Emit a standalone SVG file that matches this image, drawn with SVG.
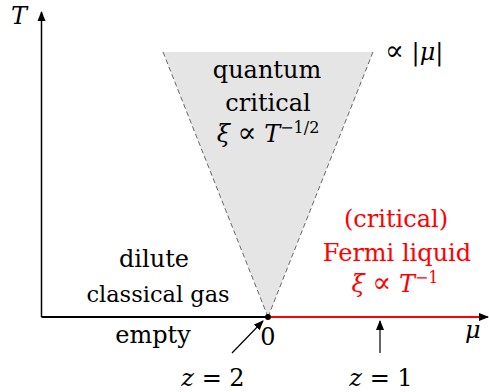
<svg xmlns="http://www.w3.org/2000/svg" width="489" height="392" viewBox="0 0 489 392">
<defs>
<marker id="ah" viewBox="0 0 10 10" refX="9" refY="5" markerWidth="10" markerHeight="10" markerUnits="userSpaceOnUse" orient="auto"><path d="M0,1 L10,5 L0,9 z" fill="#000"/></marker>
</defs>
<g font-family="DejaVu Serif, Liberation Serif, serif" font-size="24">
<g id="region-qc">
<polygon points="163,52 373,52 268,317" fill="#e5e5e5"/>
<line x1="163" y1="52" x2="268" y2="317" stroke="#444" stroke-width="0.8" stroke-dasharray="5,3"/>
<line x1="373" y1="52" x2="268" y2="317" stroke="#444" stroke-width="0.8" stroke-dasharray="5,3"/>
<text x="267" y="78" text-anchor="middle">quantum</text>
<text x="268" y="111" text-anchor="middle">critical</text>
<text x="268" y="142" text-anchor="middle"><tspan font-style="italic">ξ</tspan> <tspan font-size="28">∝</tspan> <tspan font-style="italic">T</tspan><tspan font-size="16" dy="-9">−1/2</tspan></text>
<text x="385" y="60"><tspan font-size="28">∝</tspan> |<tspan font-style="italic">μ</tspan>|</text>
</g>
<g id="axes">
<line x1="41.5" y1="317" x2="41.5" y2="12" stroke="#000" stroke-width="1.5" marker-end="url(#ah)"/>
<line x1="41.5" y1="317" x2="268" y2="317" stroke="#000" stroke-width="2"/>
<line x1="268" y1="317" x2="488" y2="317" stroke="#ff0000" stroke-width="2" marker-end="url(#ah)"/>
<circle cx="268" cy="317" r="3" fill="#000"/>
<text x="11" y="24" font-style="italic">T</text>
<text x="465" y="338" font-style="italic">μ</text>
<text x="268" y="345" text-anchor="middle">0</text>
</g>
<g id="dilute">
<text x="154" y="267" text-anchor="middle">dilute</text>
<text x="158" y="302" text-anchor="middle" font-size="22.5">classical gas</text>
</g>
<g id="empty">
<text x="153" y="343" text-anchor="middle">empty</text>
</g>
<g id="fermi" fill="#ff0000">
<text x="396" y="227" text-anchor="middle">(critical)</text>
<text x="397" y="261" text-anchor="middle">Fermi liquid</text>
<text x="395" y="292" text-anchor="middle"><tspan font-style="italic">ξ</tspan> <tspan font-size="28">∝</tspan> <tspan font-style="italic">T</tspan><tspan font-size="16" dy="-9">−1</tspan></text>
</g>
<g id="connectors">
<line x1="232" y1="353" x2="263" y2="321" stroke="#000" stroke-width="1.2" marker-end="url(#ah)"/>
<line x1="380" y1="353" x2="380" y2="321" stroke="#000" stroke-width="1.2" marker-end="url(#ah)"/>
</g>
<g id="z2"><text x="213" y="386" text-anchor="middle"><tspan font-style="italic">z</tspan> = 2</text></g>
<g id="z1"><text x="381" y="386" text-anchor="middle"><tspan font-style="italic">z</tspan> = 1</text></g>
</g>
</svg>
